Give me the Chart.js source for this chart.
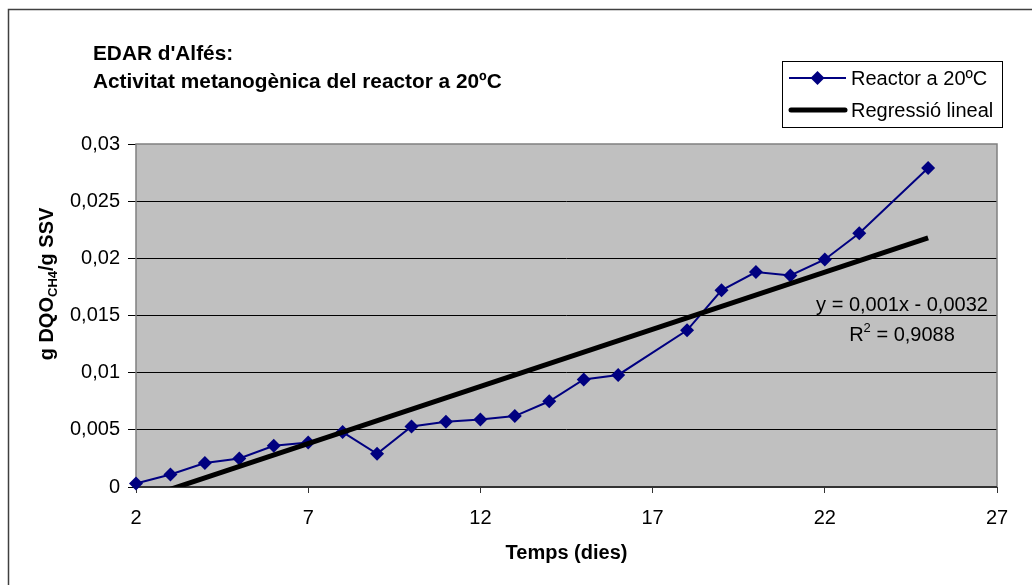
<!DOCTYPE html>
<html>
<head>
<meta charset="utf-8">
<title>EDAR d'Alfés</title>
<script src="https://cdn.jsdelivr.net/npm/chart.js@4.4.1/dist/chart.umd.min.js"></script>
<style>
    html, body { margin: 0; padding: 0; background: #fff; }
    canvas { display: block; }
</style>
</head>
<body>
<canvas id="chart-area" width="1032" height="585"></canvas>
<script>
// Reactor a 20ºC: activitat metanogènica (g DQO CH4 / g SSV) per dia
const days = [2, 3, 4, 5, 6, 7, 8, 9, 10, 11, 12, 13, 14, 15, 16, 18, 19, 20, 21, 22, 23, 25];
const activity = [0.0003, 0.0011, 0.0021, 0.0025, 0.0036, 0.0039, 0.0048, 0.0029, 0.0053, 0.0057,
    0.0059, 0.0062, 0.0075, 0.0094, 0.0098, 0.0137, 0.0172, 0.0188, 0.0185, 0.0199, 0.0222, 0.0279];

const xTicks = [2, 7, 12, 17, 22, 27];
const yTicks = [0, 0.005, 0.01, 0.015, 0.02, 0.025, 0.03];

// regressió lineal: y = a·x + b
const trendSlope = 0.001;
const trendIntercept = -0.0032;
const trendR2 = 0.9088;
const trendDays = [2, 25];

const FONT = "'Liberation Sans', Arial, sans-serif";
const NAVY = '#000080';

function comma(v) {
    return String(v).replace('.', ',');
}

const decorations = {
    id: 'decorations',
    beforeDraw(chart) {
        const c = chart.ctx;
        const a = chart.chartArea;
        c.save();
        // marc exterior
        c.strokeStyle = '#404040';
        c.lineWidth = 1.5;
        c.strokeRect(8.5, 9.5, 1030, 580);
        // fons de l'àrea de dibuix
        c.fillStyle = '#C0C0C0';
        c.fillRect(a.left, a.top, a.right - a.left, a.bottom - a.top);
        c.restore();
    },
    beforeDatasetsDraw(chart) {
        const c = chart.ctx;
        const a = chart.chartArea;
        c.save();
        c.lineWidth = 1.5;
        c.strokeStyle = '#808080';
        c.beginPath();
        c.moveTo(a.left, a.bottom);
        c.lineTo(a.left, a.top);
        c.lineTo(a.right, a.top);
        c.lineTo(a.right, a.bottom);
        c.stroke();
        c.strokeStyle = '#333';
        c.lineWidth = 2;
        c.beginPath();
        c.moveTo(a.left, a.bottom);
        c.lineTo(a.right, a.bottom);
        c.stroke();
        c.restore();
    },
    afterDraw(chart) {
        const c = chart.ctx;
        c.save();
        c.fillStyle = '#000';
        c.textBaseline = 'alphabetic';

        // títol
        c.font = 'bold 20.8px ' + FONT;
        c.textAlign = 'left';
        c.fillText("EDAR d'Alfés:", 93, 60);
        c.fillText('Activitat metanogènica del reactor a 20ºC', 93, 88);

        // títol de l'eix Y amb subíndex
        const main1 = 'g DQO', sub = 'CH4', main2 = '/g SSV';
        const bold = 'bold 20px ' + FONT, small = 'bold 13px ' + FONT;
        c.font = bold;
        const w1 = c.measureText(main1).width, w3 = c.measureText(main2).width;
        c.font = small;
        const w2 = c.measureText(sub).width;
        const total = w1 + w2 + w3;
        c.translate(53, 284);
        c.rotate(-Math.PI / 2);
        c.font = bold;
        c.fillText(main1, -total / 2, 0);
        c.font = small;
        c.fillText(sub, -total / 2 + w1, 4);
        c.font = bold;
        c.fillText(main2, -total / 2 + w1 + w2, 0);
        c.setTransform(1, 0, 0, 1, 0, 0);

        // equació i R²
        c.font = '20px ' + FONT;
        c.textAlign = 'center';
        const sign = trendIntercept < 0 ? ' - ' : ' + ';
        c.fillText('y = ' + comma(trendSlope) + 'x' + sign + comma(Math.abs(trendIntercept)), 902, 311);
        const r = 'R', rest = ' = ' + comma(trendR2);
        const wr = c.measureText(r).width, wrest = c.measureText(rest).width;
        c.font = '13px ' + FONT;
        const wsup = c.measureText('2').width;
        const x0 = 902 - (wr + wsup + wrest) / 2;
        c.textAlign = 'left';
        c.font = '20px ' + FONT;
        c.fillText(r, x0, 341);
        c.font = '13px ' + FONT;
        c.fillText('2', x0 + wr, 332);
        c.font = '20px ' + FONT;
        c.fillText(rest, x0 + wr + wsup, 341);

        // llegenda
        c.fillStyle = '#fff';
        c.fillRect(782.5, 61.5, 220, 66);
        c.strokeStyle = '#000';
        c.lineWidth = 1;
        c.strokeRect(782.5, 61.5, 220, 66);

        const ds = chart.data.datasets;
        c.strokeStyle = NAVY;
        c.lineWidth = 2;
        c.beginPath();
        c.moveTo(789, 78);
        c.lineTo(846, 78);
        c.stroke();
        c.fillStyle = NAVY;
        c.beginPath();
        c.moveTo(810.5, 78); c.lineTo(817.5, 71); c.lineTo(824.5, 78); c.lineTo(817.5, 85);
        c.closePath();
        c.fill();

        c.strokeStyle = '#000';
        c.lineWidth = 5;
        c.lineCap = 'round';
        c.beginPath();
        c.moveTo(791, 110);
        c.lineTo(845, 110);
        c.stroke();

        c.fillStyle = '#000';
        c.font = '20px ' + FONT;
        c.fillText(ds[0].label, 851, 85);
        c.fillText(ds[1].label, 851, 117);
        c.restore();
    }
};

const ctx = document.getElementById('chart-area').getContext('2d');
const config = {
    type: 'line',
    data: {
        datasets: [{
            label: 'Reactor a 20ºC',
            data: days.map((d, i) => ({x: d, y: activity[i]})),
            borderColor: NAVY,
            backgroundColor: NAVY,
            borderWidth: 2,
            pointStyle: 'rectRot',
            pointRadius: 7,
            pointBorderWidth: 0,
            tension: 0,
            clip: false,
            order: 1
        }, {
            label: 'Regressió lineal',
            data: trendDays.map(d => ({x: d, y: trendSlope * d + trendIntercept})),
            borderColor: '#000',
            borderWidth: 5,
            pointRadius: 0,
            tension: 0,
            clip: 0,
            order: 0
        }]
    },
    options: {
        responsive: false,
        animation: false,
        layout: {
            padding: {left: 0, top: 144, right: 35, bottom: 0}
        },
        plugins: {
            legend: {display: false},
            title: {display: false},
            tooltip: {enabled: false}
        },
        scales: {
            x: {
                type: 'linear',
                min: xTicks[0],
                max: xTicks[xTicks.length - 1],
                afterBuildTicks: scale => {
                    scale.ticks = xTicks.map(v => ({value: v}));
                },
                afterFit: scale => {
                    scale.height = 98;
                },
                ticks: {
                    color: '#000',
                    font: {family: FONT, size: 20},
                    padding: 13,
                    maxRotation: 0,
                    autoSkip: false
                },
                grid: {
                    drawOnChartArea: false,
                    tickLength: 6,
                    tickColor: '#333'
                },
                border: {display: false},
                title: {
                    display: true,
                    text: 'Temps (dies)',
                    color: '#000',
                    font: {family: FONT, size: 20, weight: 'bold'},
                    padding: {top: 0, bottom: 20}
                }
            },
            y: {
                min: yTicks[0],
                max: yTicks[yTicks.length - 1],
                afterBuildTicks: scale => {
                    scale.ticks = yTicks.map(v => ({value: v}));
                },
                afterFit: scale => {
                    scale.width = 136;
                },
                ticks: {
                    color: '#000',
                    font: {family: FONT, size: 20},
                    padding: 8,
                    callback: v => comma(v)
                },
                grid: {
                    color: c => (c.tick && c.tick.value > yTicks[0] && c.tick.value < yTicks[yTicks.length - 1]) ? '#000' : 'rgba(0,0,0,0)',
                    tickColor: '#000',
                    tickLength: 8,
                    lineWidth: 1
                },
                border: {display: false}
            }
        }
    },
    plugins: [decorations]
};
window.chart = new Chart(ctx, config);
</script>
</body>
</html>
